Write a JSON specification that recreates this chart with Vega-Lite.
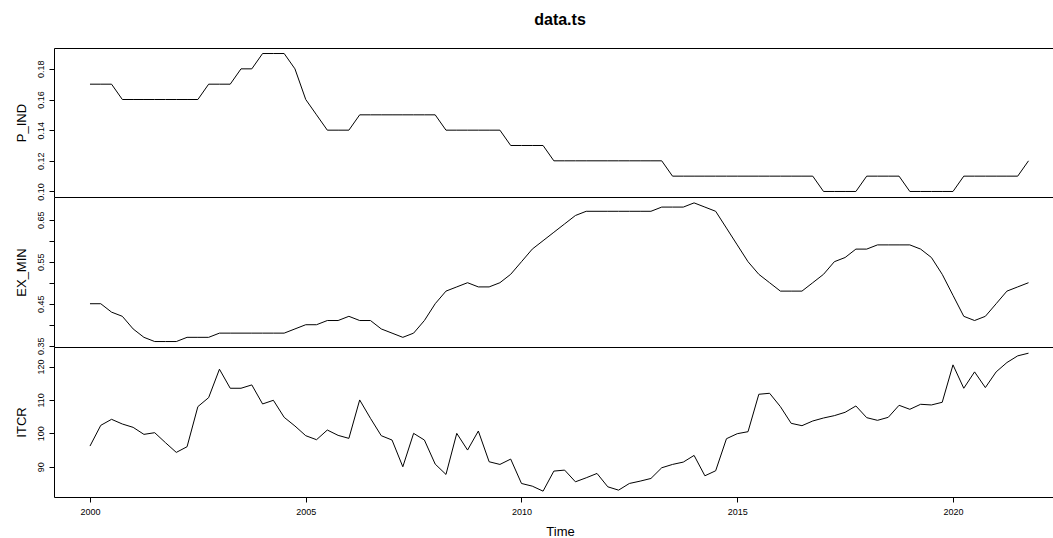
{
  "$schema": "https://vega.github.io/schema/vega-lite/v6.json",
  "autosize": {"type": "pad"},
  "padding": {"left": 14, "top": 12, "right": 0, "bottom": 0},
  "background": "white",
  "title": {"text": "data.ts", "font": "Liberation Sans", "fontSize": 16, "fontWeight": "bold", "color": "#000", "anchor": "middle", "frame": "group", "offset": 20, "dx": 5.5},
  "config": {
    "view": {"stroke": null},
    "axis": {"domainColor": "#000", "tickColor": "#000", "labelColor": "#000", "titleColor": "#000", "labelFont": "Liberation Sans", "titleFont": "Liberation Sans", "labelFontSize": 9, "titleFontSize": 13, "titleFontWeight": "normal", "grid": false, "tickSize": 5, "domainWidth": 1, "tickWidth": 1}
  },
  "data": {"values": [
    {"t": 2000, "P_IND": 0.17, "EX_MIN": 0.45, "ITCR": 96.2},
    {"t": 2000.25, "P_IND": 0.17, "EX_MIN": 0.45, "ITCR": 102.4},
    {"t": 2000.5, "P_IND": 0.17, "EX_MIN": 0.43, "ITCR": 104.2},
    {"t": 2000.75, "P_IND": 0.16, "EX_MIN": 0.42, "ITCR": 102.8},
    {"t": 2001, "P_IND": 0.16, "EX_MIN": 0.39, "ITCR": 101.8},
    {"t": 2001.25, "P_IND": 0.16, "EX_MIN": 0.37, "ITCR": 99.7},
    {"t": 2001.5, "P_IND": 0.16, "EX_MIN": 0.36, "ITCR": 100.2},
    {"t": 2001.75, "P_IND": 0.16, "EX_MIN": 0.36, "ITCR": 97.2},
    {"t": 2002, "P_IND": 0.16, "EX_MIN": 0.36, "ITCR": 94.3},
    {"t": 2002.25, "P_IND": 0.16, "EX_MIN": 0.37, "ITCR": 96.0},
    {"t": 2002.5, "P_IND": 0.16, "EX_MIN": 0.37, "ITCR": 108.0},
    {"t": 2002.75, "P_IND": 0.17, "EX_MIN": 0.37, "ITCR": 110.7},
    {"t": 2003, "P_IND": 0.17, "EX_MIN": 0.38, "ITCR": 119.2},
    {"t": 2003.25, "P_IND": 0.17, "EX_MIN": 0.38, "ITCR": 113.5},
    {"t": 2003.5, "P_IND": 0.18, "EX_MIN": 0.38, "ITCR": 113.5},
    {"t": 2003.75, "P_IND": 0.18, "EX_MIN": 0.38, "ITCR": 114.5},
    {"t": 2004, "P_IND": 0.19, "EX_MIN": 0.38, "ITCR": 108.8},
    {"t": 2004.25, "P_IND": 0.19, "EX_MIN": 0.38, "ITCR": 109.9},
    {"t": 2004.5, "P_IND": 0.19, "EX_MIN": 0.38, "ITCR": 104.8},
    {"t": 2004.75, "P_IND": 0.18, "EX_MIN": 0.39, "ITCR": 102.2},
    {"t": 2005, "P_IND": 0.16, "EX_MIN": 0.40, "ITCR": 99.3},
    {"t": 2005.25, "P_IND": 0.15, "EX_MIN": 0.40, "ITCR": 98.1},
    {"t": 2005.5, "P_IND": 0.14, "EX_MIN": 0.41, "ITCR": 101.0},
    {"t": 2005.75, "P_IND": 0.14, "EX_MIN": 0.41, "ITCR": 99.4},
    {"t": 2006, "P_IND": 0.14, "EX_MIN": 0.42, "ITCR": 98.5},
    {"t": 2006.25, "P_IND": 0.15, "EX_MIN": 0.41, "ITCR": 110.0},
    {"t": 2006.5, "P_IND": 0.15, "EX_MIN": 0.41, "ITCR": 104.5},
    {"t": 2006.75, "P_IND": 0.15, "EX_MIN": 0.39, "ITCR": 99.3},
    {"t": 2007, "P_IND": 0.15, "EX_MIN": 0.38, "ITCR": 98.0},
    {"t": 2007.25, "P_IND": 0.15, "EX_MIN": 0.37, "ITCR": 90.0},
    {"t": 2007.5, "P_IND": 0.15, "EX_MIN": 0.38, "ITCR": 100.0},
    {"t": 2007.75, "P_IND": 0.15, "EX_MIN": 0.41, "ITCR": 98.0},
    {"t": 2008, "P_IND": 0.15, "EX_MIN": 0.45, "ITCR": 90.8},
    {"t": 2008.25, "P_IND": 0.14, "EX_MIN": 0.48, "ITCR": 87.7},
    {"t": 2008.5, "P_IND": 0.14, "EX_MIN": 0.49, "ITCR": 100.0},
    {"t": 2008.75, "P_IND": 0.14, "EX_MIN": 0.50, "ITCR": 95.0},
    {"t": 2009, "P_IND": 0.14, "EX_MIN": 0.49, "ITCR": 100.7},
    {"t": 2009.25, "P_IND": 0.14, "EX_MIN": 0.49, "ITCR": 91.5},
    {"t": 2009.5, "P_IND": 0.14, "EX_MIN": 0.50, "ITCR": 90.7},
    {"t": 2009.75, "P_IND": 0.13, "EX_MIN": 0.52, "ITCR": 92.3},
    {"t": 2010, "P_IND": 0.13, "EX_MIN": 0.55, "ITCR": 85.0},
    {"t": 2010.25, "P_IND": 0.13, "EX_MIN": 0.58, "ITCR": 84.2},
    {"t": 2010.5, "P_IND": 0.13, "EX_MIN": 0.60, "ITCR": 82.7},
    {"t": 2010.75, "P_IND": 0.12, "EX_MIN": 0.62, "ITCR": 88.7},
    {"t": 2011, "P_IND": 0.12, "EX_MIN": 0.64, "ITCR": 89.0},
    {"t": 2011.25, "P_IND": 0.12, "EX_MIN": 0.66, "ITCR": 85.5},
    {"t": 2011.5, "P_IND": 0.12, "EX_MIN": 0.67, "ITCR": 86.7},
    {"t": 2011.75, "P_IND": 0.12, "EX_MIN": 0.67, "ITCR": 88.0},
    {"t": 2012, "P_IND": 0.12, "EX_MIN": 0.67, "ITCR": 84.0},
    {"t": 2012.25, "P_IND": 0.12, "EX_MIN": 0.67, "ITCR": 83.0},
    {"t": 2012.5, "P_IND": 0.12, "EX_MIN": 0.67, "ITCR": 85.0},
    {"t": 2012.75, "P_IND": 0.12, "EX_MIN": 0.67, "ITCR": 85.7},
    {"t": 2013, "P_IND": 0.12, "EX_MIN": 0.67, "ITCR": 86.5},
    {"t": 2013.25, "P_IND": 0.12, "EX_MIN": 0.68, "ITCR": 89.7},
    {"t": 2013.5, "P_IND": 0.11, "EX_MIN": 0.68, "ITCR": 90.7},
    {"t": 2013.75, "P_IND": 0.11, "EX_MIN": 0.68, "ITCR": 91.4},
    {"t": 2014, "P_IND": 0.11, "EX_MIN": 0.69, "ITCR": 93.4},
    {"t": 2014.25, "P_IND": 0.11, "EX_MIN": 0.68, "ITCR": 87.3},
    {"t": 2014.5, "P_IND": 0.11, "EX_MIN": 0.67, "ITCR": 88.8},
    {"t": 2014.75, "P_IND": 0.11, "EX_MIN": 0.63, "ITCR": 98.4},
    {"t": 2015, "P_IND": 0.11, "EX_MIN": 0.59, "ITCR": 99.9},
    {"t": 2015.25, "P_IND": 0.11, "EX_MIN": 0.55, "ITCR": 100.5},
    {"t": 2015.5, "P_IND": 0.11, "EX_MIN": 0.52, "ITCR": 111.7},
    {"t": 2015.75, "P_IND": 0.11, "EX_MIN": 0.50, "ITCR": 112.0},
    {"t": 2016, "P_IND": 0.11, "EX_MIN": 0.48, "ITCR": 108.0},
    {"t": 2016.25, "P_IND": 0.11, "EX_MIN": 0.48, "ITCR": 103.0},
    {"t": 2016.5, "P_IND": 0.11, "EX_MIN": 0.48, "ITCR": 102.3},
    {"t": 2016.75, "P_IND": 0.11, "EX_MIN": 0.50, "ITCR": 103.7},
    {"t": 2017, "P_IND": 0.10, "EX_MIN": 0.52, "ITCR": 104.6},
    {"t": 2017.25, "P_IND": 0.10, "EX_MIN": 0.55, "ITCR": 105.3},
    {"t": 2017.5, "P_IND": 0.10, "EX_MIN": 0.56, "ITCR": 106.3},
    {"t": 2017.75, "P_IND": 0.10, "EX_MIN": 0.58, "ITCR": 108.2},
    {"t": 2018, "P_IND": 0.11, "EX_MIN": 0.58, "ITCR": 104.7},
    {"t": 2018.25, "P_IND": 0.11, "EX_MIN": 0.59, "ITCR": 103.9},
    {"t": 2018.5, "P_IND": 0.11, "EX_MIN": 0.59, "ITCR": 104.8},
    {"t": 2018.75, "P_IND": 0.11, "EX_MIN": 0.59, "ITCR": 108.4},
    {"t": 2019, "P_IND": 0.10, "EX_MIN": 0.59, "ITCR": 107.2},
    {"t": 2019.25, "P_IND": 0.10, "EX_MIN": 0.58, "ITCR": 108.7},
    {"t": 2019.5, "P_IND": 0.10, "EX_MIN": 0.56, "ITCR": 108.5},
    {"t": 2019.75, "P_IND": 0.10, "EX_MIN": 0.52, "ITCR": 109.3},
    {"t": 2020, "P_IND": 0.10, "EX_MIN": 0.47, "ITCR": 120.5},
    {"t": 2020.25, "P_IND": 0.11, "EX_MIN": 0.42, "ITCR": 113.5},
    {"t": 2020.5, "P_IND": 0.11, "EX_MIN": 0.41, "ITCR": 118.4},
    {"t": 2020.75, "P_IND": 0.11, "EX_MIN": 0.42, "ITCR": 113.7},
    {"t": 2021, "P_IND": 0.11, "EX_MIN": 0.45, "ITCR": 118.4},
    {"t": 2021.25, "P_IND": 0.11, "EX_MIN": 0.48, "ITCR": 121.2},
    {"t": 2021.5, "P_IND": 0.11, "EX_MIN": 0.49, "ITCR": 123.2},
    {"t": 2021.75, "P_IND": 0.12, "EX_MIN": 0.50, "ITCR": 124.0}
  ]},
  "bounds": "flush",
  "spacing": 0,
  "vconcat": [
    {
      "width": 1001, "height": 149,
      "mark": {"type": "line", "color": "#000", "strokeWidth": 1},
      "encoding": {
        "x": {"field": "t", "type": "quantitative", "scale": {"domain": [1999.166, 2022.364], "nice": false, "zero": false}, "axis": {"orient": "top", "ticks": false, "labels": false, "title": null}},
        "y": {"field": "P_IND", "type": "quantitative", "scale": {"domain": [0.0964, 0.1936], "nice": false, "zero": false}, "axis": {"values": [0.10, 0.12, 0.14, 0.16, 0.18], "format": ".2f", "labelAngle": -90, "labelAlign": "center", "labelBaseline": "bottom", "labelPadding": 4, "labelOverlap": false, "labelBound": false, "labelFlush": false, "title": "P_IND", "titlePadding": 8}}
      }
    },
    {
      "width": 1001, "height": 150,
      "mark": {"type": "line", "color": "#000", "strokeWidth": 1},
      "encoding": {
        "x": {"field": "t", "type": "quantitative", "scale": {"domain": [1999.166, 2022.364], "nice": false, "zero": false}, "axis": {"orient": "top", "ticks": false, "labels": false, "title": null}},
        "y": {"field": "EX_MIN", "type": "quantitative", "scale": {"domain": [0.347, 0.704], "nice": false, "zero": false}, "axis": {"values": [0.35, 0.40, 0.45, 0.50, 0.55, 0.60, 0.65], "labelExpr": "indexof(['0.35','0.45','0.55','0.65'], format(datum.value, '.2f')) >= 0 ? format(datum.value, '.2f') : ''", "labelAngle": -90, "labelAlign": "center", "labelBaseline": "bottom", "labelPadding": 4, "labelOverlap": false, "labelBound": false, "labelFlush": false, "title": "EX_MIN", "titlePadding": 8}}
      }
    },
    {
      "width": 1001, "height": 150,
      "resolve": {"axis": {"x": "independent"}},
      "layer": [
        {
          "mark": {"type": "line", "color": "#000", "strokeWidth": 1},
          "encoding": {
            "x": {"field": "t", "type": "quantitative", "scale": {"domain": [1999.166, 2022.364], "nice": false, "zero": false}, "axis": {"orient": "bottom", "values": [2000, 2005, 2010, 2015, 2020], "format": "d", "labelPadding": 5, "labelFlush": false, "labelOverlap": false, "title": "Time", "titlePadding": 9, "titleX": 506}},
            "y": {"field": "ITCR", "type": "quantitative", "scale": {"domain": [80.95, 125.85], "nice": false, "zero": false}, "axis": {"values": [90, 100, 110, 120], "format": "d", "labelAngle": -90, "labelAlign": "center", "labelBaseline": "bottom", "labelPadding": 4, "labelOverlap": false, "labelBound": false, "labelFlush": false, "title": "ITCR", "titlePadding": 8}}
          }
        },
        {
          "mark": {"type": "line", "color": "#000", "strokeOpacity": 0},
          "encoding": {
            "x": {"field": "t", "type": "quantitative", "axis": {"orient": "top", "ticks": false, "labels": false, "title": null}},
            "y": {"field": "ITCR", "type": "quantitative"}
          }
        }
      ]
    }
  ]
}
